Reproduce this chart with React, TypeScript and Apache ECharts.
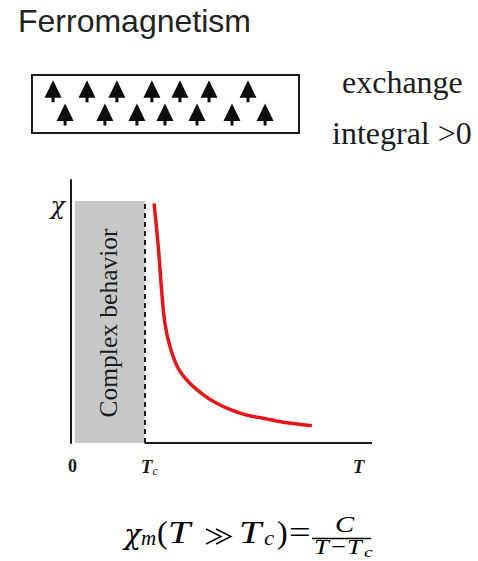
import React, { useEffect, useRef } from 'react';
import * as echarts from 'echarts';

const TITLE = 'Ferromagnetism';
const EXCHANGE_LINES = ['exchange', 'integral >0'];
const REGION_LABEL = 'Complex behavior';

// Spin lattice: positions across the box (0–100) for the two staggered rows
const SPIN_UPPER_X = [7.9, 20.6, 31.8, 44.9, 55.4, 66.3, 80.9];
const SPIN_LOWER_X = [12.4, 27.3, 39.3, 49.8, 61.8, 74.9, 87.3];
const SPIN_ROW_Y = [0.72, 0.32];

// Susceptibility above the Curie temperature
const CURVE_T = [2.76, 2.9, 3.01, 3.12, 3.29, 3.56, 3.9, 4.4, 4.84, 5.28, 5.84, 6.39, 7.05, 8.0];
const CURVE_CHI = [9.11, 7.46, 5.82, 4.55, 3.66, 2.84, 2.33, 1.83, 1.51, 1.28, 1.06, 0.94, 0.79, 0.66];

const T_C = 2.45;
const T_MAX = 10;
const CHI_MAX = 10;
const REGION_T_FROM = 0.13;
const REGION_CHI_TOP = 9.2;

const X_TICK_VALUES = [0.05, 2.6, 9.55];
const X_TICK_LABELS = ['{n|0}', '{t|T}{s|c}', '{t|T}'];
const Y_TICK_VALUES = [9.0];
const Y_TICK_LABELS = ['χ'];

const SERIF = '"Liberation Serif", "Times New Roman", serif';
const GREEK = '"DejaVu Serif", serif';
const SANS = '"Liberation Sans", Arial, sans-serif';
const INK = '#1c1c1c';

const SPIN_SYMBOL = 'path://M8.5,0 L17,17.5 L10,17.5 L10,22 L7,22 L7,17.5 L0,17.5 Z';

// One formula glyph run: text, left x, baseline y, font size, italic, horizontal stretch, family
type Piece = [string, number, number, number, boolean, number, string?];

const FORMULA: Piece[] = [
  ['χ', 124, 546, 28, true, 1, GREEK],
  ['m', 141, 546, 21, true, 1],
  ['(', 157, 545, 32, false, 1],
  ['T', 168, 545, 32, true, 1.25],
  ['T', 239, 545, 32, true, 1.25],
  ['c', 264, 546, 21, true, 1.1],
  [')', 277, 545, 32, false, 1],
  ['=', 289, 545, 32, false, 1.2],
  ['C', 335, 533, 24, true, 1.2],
  ['T', 314, 555, 22, true, 1.2],
  ['−', 331, 555, 22, false, 1.2],
  ['T', 347, 555, 22, true, 1.2],
  ['c', 364, 558, 15, true, 1.3],
];

export default function App() {
  const ref = useRef<HTMLDivElement>(null);

  useEffect(() => {
    document.body.style.margin = '0';
    if (!ref.current) return;
    const chart = echarts.init(ref.current, undefined, { renderer: 'svg' });

    const spinData = [
      ...SPIN_UPPER_X.map((x) => [x, SPIN_ROW_Y[0]]),
      ...SPIN_LOWER_X.map((x) => [x, SPIN_ROW_Y[1]]),
    ];
    const curveData = CURVE_T.map((t, i) => [t, CURVE_CHI[i]]);

    const formulaTexts = FORMULA.map(([text, x, baseline, size, italic, stretch, family]) => ({
      type: 'text',
      x,
      y: baseline - 0.4 * size,
      scaleX: stretch,
      style: {
        text,
        fontFamily: family ?? SERIF,
        fontSize: size,
        fontStyle: italic ? 'italic' : 'normal',
        fill: '#000',
        align: 'left',
        verticalAlign: 'middle',
      },
    }));

    // "much greater than" sign as two thin chevrons
    const muchGreater = [0, 10].map((dx) => ({
      type: 'polyline',
      shape: { points: [[206 + dx, 529], [221 + dx, 536.5], [206 + dx, 544]] },
      style: { stroke: '#000', lineWidth: 1.4, fill: 'none' },
    }));

    const option: any = {
      animation: false,
      backgroundColor: '#ffffff',
      title: {
        text: TITLE,
        left: 13,
        top: 0,
        textStyle: { fontFamily: SANS, fontSize: 32, fontWeight: 'normal', color: '#222222' },
      },
      grid: [
        { left: 32, top: 75, width: 267, height: 58, show: true, borderColor: INK, borderWidth: 2, backgroundColor: 'transparent' },
        { left: 71, top: 180, width: 301, height: 263 },
      ],
      xAxis: [
        { gridIndex: 0, type: 'value', min: 0, max: 100, show: false },
        {
          gridIndex: 1,
          type: 'value',
          min: 0,
          max: T_MAX,
          axisLine: { show: false },
          axisTick: { show: false },
          splitLine: { show: false },
          axisLabel: {
            customValues: X_TICK_VALUES,
            formatter: (v: number) => X_TICK_LABELS[X_TICK_VALUES.indexOf(v)] ?? '',
            margin: 12,
            rich: {
              n: { fontFamily: SERIF, fontSize: 18, fontWeight: 'bold', color: INK, lineHeight: 22 },
              t: { fontFamily: SERIF, fontSize: 19, fontStyle: 'italic', fontWeight: 'bold', color: INK, lineHeight: 22 },
              s: { fontFamily: SERIF, fontSize: 12, fontStyle: 'italic', color: INK, lineHeight: 12, verticalAlign: 'bottom' },
            },
          },
        },
      ],
      yAxis: [
        { gridIndex: 0, type: 'value', min: 0, max: 1, show: false },
        {
          gridIndex: 1,
          type: 'value',
          min: 0,
          max: CHI_MAX,
          axisLine: { show: true, lineStyle: { color: INK, width: 2 } },
          axisTick: { show: false },
          splitLine: { show: false },
          axisLabel: {
            customValues: Y_TICK_VALUES,
            formatter: (v: number) => Y_TICK_LABELS[Y_TICK_VALUES.indexOf(v)] ?? '',
            margin: 6,
            fontFamily: GREEK,
            fontSize: 24,
            fontStyle: 'italic',
            color: INK,
          },
        },
      ],
      series: [
        {
          name: 'spins',
          type: 'scatter',
          xAxisIndex: 0,
          yAxisIndex: 0,
          data: spinData,
          symbol: SPIN_SYMBOL,
          symbolSize: [17, 22],
          itemStyle: { color: '#0d0d0d', opacity: 1 },
          silent: true,
        },
        {
          name: 'region',
          type: 'line',
          xAxisIndex: 1,
          yAxisIndex: 1,
          data: [],
          z: 1,
          silent: true,
          markArea: {
            silent: true,
            itemStyle: { color: '#c8c8c8' },
            label: { show: false },
            data: [[{ coord: [REGION_T_FROM, 0] }, { coord: [T_C, REGION_CHI_TOP] }]],
          },
        },
        {
          name: 'chi',
          type: 'line',
          xAxisIndex: 1,
          yAxisIndex: 1,
          data: curveData,
          smooth: 0.35,
          clip: false,
          symbol: 'none',
          z: 3,
          lineStyle: { color: '#e3161b', width: 3.5 },
          markLine: {
            silent: true,
            symbol: 'none',
            label: { show: false },
            data: [
              [
                { coord: [T_C, 0], lineStyle: { color: INK, width: 2, type: [5, 4] } },
                { coord: [T_C, REGION_CHI_TOP] },
              ],
              [
                { coord: [T_C, 0], lineStyle: { color: INK, width: 2, type: 'solid' } },
                { coord: [T_MAX, 0] },
              ],
            ],
          },
        },
      ],
      graphic: [
        {
          type: 'text',
          x: 342,
          y: 82,
          style: { text: EXCHANGE_LINES[0], fontFamily: SERIF, fontSize: 32, fill: INK, align: 'left', verticalAlign: 'middle' },
        },
        {
          type: 'text',
          x: 332,
          y: 133,
          style: { text: EXCHANGE_LINES[1], fontFamily: SERIF, fontSize: 32, fill: INK, align: 'left', verticalAlign: 'middle' },
        },
        {
          type: 'text',
          x: 108,
          y: 323,
          rotation: Math.PI / 2,
          z: 10,
          style: { text: REGION_LABEL, fontFamily: SERIF, fontSize: 25.5, fill: INK, align: 'center', verticalAlign: 'middle' },
        },
        ...formulaTexts,
        ...muchGreater,
        {
          type: 'line',
          shape: { x1: 312, y1: 538.5, x2: 371, y2: 538.5 },
          style: { stroke: '#000', lineWidth: 1.3 },
        },
      ],
    };

    chart.setOption(option);
    return () => chart.dispose();
  }, []);

  return <div ref={ref} style={{ width: 478, height: 561 }} />;
}
